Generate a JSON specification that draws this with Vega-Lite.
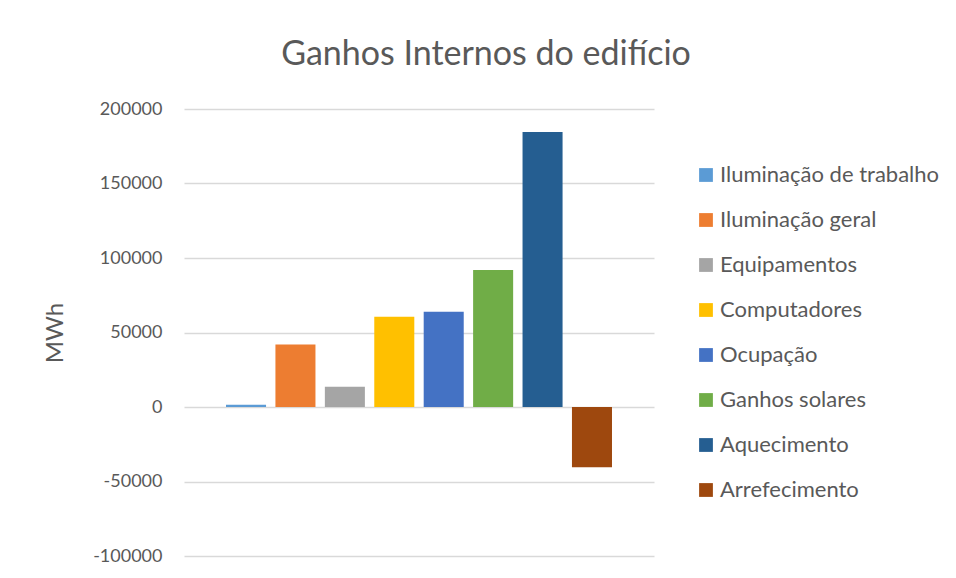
{
  "$schema": "https://vega.github.io/schema/vega-lite/v6.json",
  "autosize": "none",
  "width": 470,
  "height": 447,
  "padding": {"left": 184, "top": 109, "right": 302, "bottom": 22},
  "background": "white",
  "title": {
    "text": "Ganhos Internos do edifício",
    "frame": "group",
    "anchor": "middle",
    "dx": 67,
    "baseline": "alphabetic",
    "offset": 1,
    "font": "Lato",
    "fontSize": 34,
    "fontWeight": "normal",
    "color": "#595959"
  },
  "data": {
    "values": [
      {"Categoria": "Iluminação de trabalho", "MWh": 1500},
      {"Categoria": "Iluminação geral", "MWh": 42000},
      {"Categoria": "Equipamentos", "MWh": 13600},
      {"Categoria": "Computadores", "MWh": 60500},
      {"Categoria": "Ocupação", "MWh": 63900},
      {"Categoria": "Ganhos solares", "MWh": 92000},
      {"Categoria": "Aquecimento", "MWh": 184500},
      {"Categoria": "Arrefecimento", "MWh": -40500}
    ]
  },
  "mark": {"type": "bar"},
  "encoding": {
    "x": {
      "field": "Categoria",
      "type": "nominal",
      "sort": null,
      "axis": null,
      "scale": {"paddingInner": 0.19, "paddingOuter": 0.85}
    },
    "y": {
      "field": "MWh",
      "type": "quantitative",
      "scale": {"domain": [-100000, 200000], "nice": false, "zero": false},
      "axis": {
        "values": [-100000, -50000, 0, 50000, 100000, 150000, 200000],
        "labelExpr": "'' + datum.value",
        "title": "MWh",
        "titleFont": "Lato",
        "titleFontSize": 24,
        "titleFontWeight": "normal",
        "titleColor": "#595959",
        "titlePadding": 25,
        "labelFont": "Lato",
        "labelFontSize": 18,
        "labelColor": "#595959",
        "labelPadding": 22,
        "ticks": false,
        "domain": false,
        "grid": true,
        "gridColor": "#d9d9d9",
        "gridWidth": 1.3
      }
    },
    "color": {
      "field": "Categoria",
      "type": "nominal",
      "sort": null,
      "scale": {
        "domain": ["Iluminação de trabalho", "Iluminação geral", "Equipamentos", "Computadores", "Ocupação", "Ganhos solares", "Aquecimento", "Arrefecimento"],
        "range": ["#5B9BD5", "#ED7D31", "#A5A5A5", "#FFC000", "#4472C4", "#70AD47", "#255E91", "#9E480E"]
      },
      "legend": {
        "title": null,
        "orient": "none",
        "legendX": 511,
        "legendY": 55,
        "padding": 0,
        "symbolType": "square",
        "symbolSize": 190,
        "symbolStrokeWidth": 0,
        "symbolOpacity": 1,
        "labelFont": "Lato",
        "labelFontSize": 22,
        "labelColor": "#595959",
        "labelOffset": 3,
        "labelLimit": 400,
        "rowPadding": 23
      }
    }
  },
  "config": {"view": {"stroke": null}}
}
